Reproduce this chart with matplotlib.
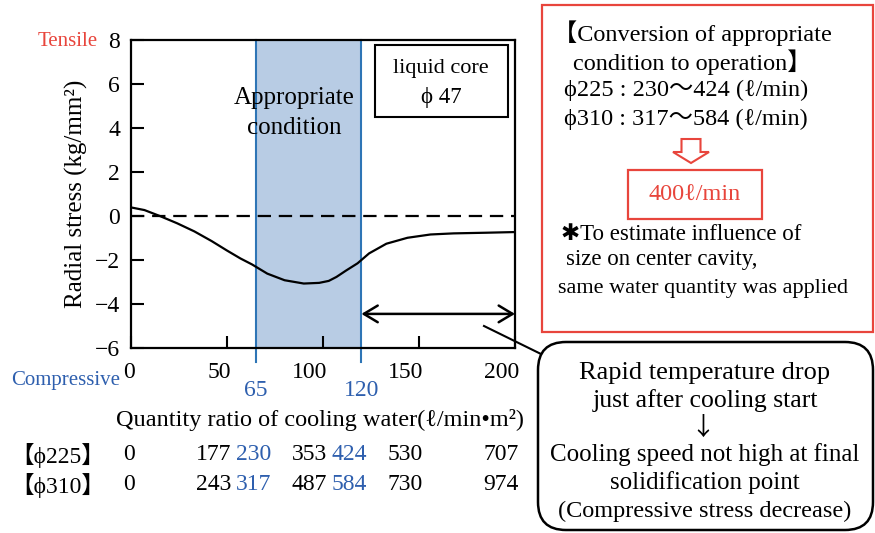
import matplotlib
matplotlib.use("Agg")
import matplotlib.pyplot as plt
import matplotlib.patches as patches
import matplotlib.transforms as mtransforms

plt.rcParams['font.family'] = ['Liberation Serif', 'DejaVu Serif', 'Noto Sans CJK JP', 'DejaVu Sans']

# radial stress vs. cooling water ratio
ratio = [0, 7, 15, 24, 33, 42, 50, 57, 63, 71, 80, 90, 98, 103, 107, 112,
         118, 124, 133, 144, 156, 168, 185, 200]
stress = [0.39, 0.27, 0.0, -0.33, -0.7, -1.14, -1.57, -1.93, -2.2, -2.62,
          -2.92, -3.07, -3.04, -2.95, -2.77, -2.48, -2.15, -1.7, -1.26, -0.99,
          -0.84, -0.79, -0.76, -0.73]

band = (65, 120)
xticks = [0, 50, 100, 150, 200]
yticks = [-6, -4, -2, 0, 2, 4, 6, 8]

# flow rate (l/min) for each strand size at the tick positions / band edges
sizes = ['【ϕ225】', '【ϕ310】']
flow_ticks = [[0, 177, 353, 530, 707],
              [0, 243, 487, 730, 974]]
flow_band = [[230, 424],
             [317, 584]]

RED = '#e8453c'
BLUE = '#2e5fae'
BAND_EDGE = '#2e75b6'
BAND_FILL = '#b8cce4'

W, H = 875, 533
fig = plt.figure(figsize=(W / 100, H / 100), dpi=100)
ax = fig.add_axes([131 / W, 1 - 348 / H, (515 - 131) / W, (348 - 40) / H])

# pixel coordinates measured from the top-left corner of the figure
px = mtransforms.Affine2D().scale(1 / W, -1 / H).translate(0, 1) + fig.transFigure

ax.axvspan(band[0], band[1], color=BAND_FILL, lw=0, zorder=0)
for b in band:
    ax.plot([b, b], [-6.65, 8], color=BAND_EDGE, lw=1.5, clip_on=False, zorder=1)
ax.axhline(0, color='black', lw=1.6, ls=(0, (6, 3.5)), zorder=2)
ax.plot(ratio, stress, color='black', lw=1.6, zorder=3)

ax.set_xlim(0, 200)
ax.set_ylim(-6, 8)
ax.set_xticks(xticks)
ax.set_yticks(yticks)
ax.set_yticklabels([str(v).replace('-', '\u2212') for v in yticks])
ax.tick_params(direction='in', length=9, width=1.5, labelsize=17)
ax.tick_params(axis='x', pad=10)
ax.tick_params(axis='y', pad=8)
shift = mtransforms.ScaledTranslation(4 / 100, 0, fig.dpi_scale_trans)
for lab in ax.get_xticklabels():
    lab.set_horizontalalignment('right')
    lab.set_transform(lab.get_transform() + shift)
for s in ax.spines.values():
    s.set_linewidth(1.6)

ax.set_ylabel('Radial stress (kg/mm²)', fontsize=18, labelpad=5)
fig.text(320, 420, 'Quantity ratio of cooling water(ℓ/min•m²)', transform=px,
         fontsize=17.5, ha='center', va='center')

fig.text(98, 42, 'Tensile', transform=px, color=RED, fontsize=15, ha='right', va='center')
fig.text(120, 380, 'Compressive', transform=px, color=BLUE, fontsize=15, ha='right', va='center')

# band edge values under the axis
for b in band:
    ax.annotate(str(b), xy=(b, 0), xycoords=('data', 'axes fraction'),
                xytext=(0, -42), textcoords='offset pixels',
                color=BLUE, fontsize=17, ha='center', va='center')

ax.text(85, 5.35, 'Appropriate', fontsize=18, ha='center', va='center')
ax.text(85, 4.0, 'condition', fontsize=18, ha='center', va='center')

# liquid core label box
ax.add_patch(patches.Rectangle((375, 45), 133, 72, transform=px, fill=False,
                               ec='black', lw=1.5, clip_on=False))
fig.text(441, 68, 'liquid core', transform=px, fontsize=16, ha='center', va='center')
fig.text(441, 97, 'ϕ 47', transform=px, fontsize=16.5, ha='center', va='center')

# double arrow over the high-flow region
ax.annotate('', xy=(200, -4.45), xytext=(band[1], -4.45),
            arrowprops=dict(arrowstyle='<->,head_length=1.0,head_width=0.6',
                            lw=1.8, color='black', shrinkA=0, shrinkB=0))

# leader line to the note box
fig.add_artist(plt.Line2D([484, 541], [326, 354], transform=px, color='black', lw=1.5))

# conversion table under the axis
row_y = [455, 485]
for name, vals, bvals, y in zip(sizes, flow_ticks, flow_band, row_y):
    fig.text(58, y, name, transform=px, fontsize=17, ha='center', va='center')
    for xt, v in zip(xticks, vals):
        ax.annotate(str(v), xy=(xt, 0), xycoords=('data', 'axes fraction'),
                    xytext=(4, 348 - y), textcoords='offset pixels',
                    fontsize=17, ha='right', va='center')
    for xt, v in zip(xticks[1:3], bvals):
        ax.annotate(str(v), xy=(xt, 0), xycoords=('data', 'axes fraction'),
                    xytext=(9, 348 - y), textcoords='offset pixels',
                    color=BLUE, fontsize=17, ha='left', va='center')

# conversion summary box
fig.add_artist(patches.Rectangle((542, 5), 331, 327, transform=px, fill=False,
                                 ec=RED, lw=1.6))
lines = [
    (553, 33, '【Conversion of appropriate', 17.5),
    (573, 62, 'condition to operation】', 17.5),
    (564, 90, 'ϕ225 : 230～424 (ℓ/min)', 17.5),
    (564, 119, 'ϕ310 : 317～584 (ℓ/min)', 17.5),
    (561, 235, '✱To estimate influence of', 16.5),
    (566, 260, 'size on center cavity,', 16.5),
    (558, 288, 'same water quantity was applied', 16),
]
for x, y, t, fs in lines:
    fig.text(x, y, t, transform=px, fontsize=fs, ha='left', va='center')

fig.add_artist(patches.FancyArrow(691, 139, 0, 24, width=19, head_width=36,
                                  head_length=11, length_includes_head=True,
                                  transform=px, fc='white', ec=RED, lw=1.5))
fig.add_artist(patches.Rectangle((628, 170), 134, 49, transform=px, fill=False,
                                 ec=RED, lw=1.6))
fig.text(695, 195, '400ℓ/min', transform=px, color=RED, fontsize=17.5,
         ha='center', va='center')

# explanation bubble
fig.add_artist(patches.FancyBboxPatch((538, 342), 335, 188, transform=px,
                                      boxstyle='round,pad=0,rounding_size=28',
                                      fill=False, ec='black', lw=1.8))
note = [(373, 'Rapid temperature drop', 19),
        (401, 'just after cooling start', 18.5),
        (455, 'Cooling speed not high at final', 18),
        (483, 'solidification point', 18),
        (511, '(Compressive stress decrease)', 17.5)]
for y, t, fs in note:
    fig.text(705, y, t, transform=px, fontsize=fs, ha='center', va='center')
fig.text(703, 428, '↓', transform=px, fontsize=18, ha='center', va='center',
         family=['Noto Sans CJK JP', 'DejaVu Sans'])

fig.savefig('out.png', dpi=100)
